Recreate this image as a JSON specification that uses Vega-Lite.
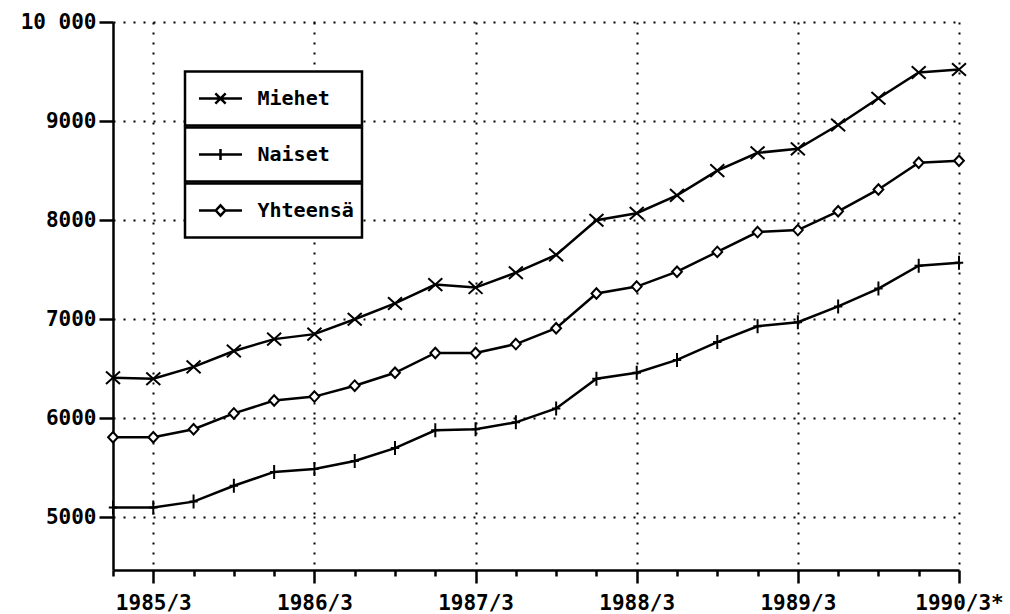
{
  "$schema": "https://vega.github.io/schema/vega-lite/v6.json",
  "width": 846,
  "height": 548,
  "autosize": {"type": "none"},
  "padding": {"left": 113, "top": 22, "right": 51, "bottom": 44},
  "background": "white",
  "config": {
    "view": {"stroke": null},
    "axis": {
      "domainColor": "black",
      "domainWidth": 2.5,
      "tickColor": "black",
      "tickWidth": 2.5,
      "gridColor": "black",
      "gridDash": [2, 8],
      "gridWidth": 2,
      "labelFont": "DejaVu Sans Mono",
      "labelFontWeight": "bold",
      "labelFontSize": 21,
      "labelColor": "black",
      "title": null
    }
  },
  "data": {
    "values": [
      {"t": 0, "sarja": "Miehet", "arvo": 6410},
      {"t": 1, "sarja": "Miehet", "arvo": 6400},
      {"t": 2, "sarja": "Miehet", "arvo": 6520},
      {"t": 3, "sarja": "Miehet", "arvo": 6680},
      {"t": 4, "sarja": "Miehet", "arvo": 6800},
      {"t": 5, "sarja": "Miehet", "arvo": 6850},
      {"t": 6, "sarja": "Miehet", "arvo": 7000},
      {"t": 7, "sarja": "Miehet", "arvo": 7160},
      {"t": 8, "sarja": "Miehet", "arvo": 7350},
      {"t": 9, "sarja": "Miehet", "arvo": 7320},
      {"t": 10, "sarja": "Miehet", "arvo": 7470},
      {"t": 11, "sarja": "Miehet", "arvo": 7650},
      {"t": 12, "sarja": "Miehet", "arvo": 8000},
      {"t": 13, "sarja": "Miehet", "arvo": 8070},
      {"t": 14, "sarja": "Miehet", "arvo": 8250},
      {"t": 15, "sarja": "Miehet", "arvo": 8500},
      {"t": 16, "sarja": "Miehet", "arvo": 8680},
      {"t": 17, "sarja": "Miehet", "arvo": 8720},
      {"t": 18, "sarja": "Miehet", "arvo": 8960},
      {"t": 19, "sarja": "Miehet", "arvo": 9230},
      {"t": 20, "sarja": "Miehet", "arvo": 9490},
      {"t": 21, "sarja": "Miehet", "arvo": 9520},
      {"t": 0, "sarja": "Naiset", "arvo": 5100},
      {"t": 1, "sarja": "Naiset", "arvo": 5100},
      {"t": 2, "sarja": "Naiset", "arvo": 5160},
      {"t": 3, "sarja": "Naiset", "arvo": 5320},
      {"t": 4, "sarja": "Naiset", "arvo": 5460},
      {"t": 5, "sarja": "Naiset", "arvo": 5490},
      {"t": 6, "sarja": "Naiset", "arvo": 5570},
      {"t": 7, "sarja": "Naiset", "arvo": 5700},
      {"t": 8, "sarja": "Naiset", "arvo": 5880},
      {"t": 9, "sarja": "Naiset", "arvo": 5890},
      {"t": 10, "sarja": "Naiset", "arvo": 5960},
      {"t": 11, "sarja": "Naiset", "arvo": 6100},
      {"t": 12, "sarja": "Naiset", "arvo": 6400},
      {"t": 13, "sarja": "Naiset", "arvo": 6460},
      {"t": 14, "sarja": "Naiset", "arvo": 6590},
      {"t": 15, "sarja": "Naiset", "arvo": 6770},
      {"t": 16, "sarja": "Naiset", "arvo": 6930},
      {"t": 17, "sarja": "Naiset", "arvo": 6970},
      {"t": 18, "sarja": "Naiset", "arvo": 7130},
      {"t": 19, "sarja": "Naiset", "arvo": 7310},
      {"t": 20, "sarja": "Naiset", "arvo": 7540},
      {"t": 21, "sarja": "Naiset", "arvo": 7570},
      {"t": 0, "sarja": "Yhteensä", "arvo": 5810},
      {"t": 1, "sarja": "Yhteensä", "arvo": 5810},
      {"t": 2, "sarja": "Yhteensä", "arvo": 5890},
      {"t": 3, "sarja": "Yhteensä", "arvo": 6050},
      {"t": 4, "sarja": "Yhteensä", "arvo": 6180},
      {"t": 5, "sarja": "Yhteensä", "arvo": 6220},
      {"t": 6, "sarja": "Yhteensä", "arvo": 6330},
      {"t": 7, "sarja": "Yhteensä", "arvo": 6460},
      {"t": 8, "sarja": "Yhteensä", "arvo": 6660},
      {"t": 9, "sarja": "Yhteensä", "arvo": 6660},
      {"t": 10, "sarja": "Yhteensä", "arvo": 6750},
      {"t": 11, "sarja": "Yhteensä", "arvo": 6910},
      {"t": 12, "sarja": "Yhteensä", "arvo": 7260},
      {"t": 13, "sarja": "Yhteensä", "arvo": 7330},
      {"t": 14, "sarja": "Yhteensä", "arvo": 7480},
      {"t": 15, "sarja": "Yhteensä", "arvo": 7680},
      {"t": 16, "sarja": "Yhteensä", "arvo": 7880},
      {"t": 17, "sarja": "Yhteensä", "arvo": 7900},
      {"t": 18, "sarja": "Yhteensä", "arvo": 8090},
      {"t": 19, "sarja": "Yhteensä", "arvo": 8310},
      {"t": 20, "sarja": "Yhteensä", "arvo": 8580},
      {"t": 21, "sarja": "Yhteensä", "arvo": 8600}
    ]
  },
  "encoding": {
    "x": {
      "field": "t",
      "type": "quantitative",
      "scale": {"domain": [0, 21], "nice": false, "zero": false},
      "axis": {
        "values": [0, 1, 2, 3, 4, 5, 6, 7, 8, 9, 10, 11, 12, 13, 14, 15, 16, 17, 18, 19, 20, 21],
        "grid": true,
        "gridOpacity": {"condition": {"test": "(datum.value - 1) % 4 === 0", "value": 1}, "value": 0},
        "tickSize": {"condition": {"test": "(datum.value - 1) % 4 === 0", "value": 13}, "value": 6},
        "labelExpr": "(datum.value - 1) % 4 === 0 ? (floor((datum.value - 1) / 4) + 1985) + '/3' + (datum.value === 21 ? '*' : '') : ''",
        "labelPadding": 9,
        "labelFlush": false,
        "labelOverlap": false
      }
    },
    "y": {
      "field": "arvo",
      "type": "quantitative",
      "scale": {"domain": [4470, 10000], "nice": false, "zero": false},
      "axis": {
        "values": [5000, 6000, 7000, 8000, 9000, 10000],
        "grid": true,
        "tickSize": 14,
        "labelPadding": 3,
        "labelExpr": "datum.value === 10000 ? '10 000' : '' + datum.value"
      }
    }
  },
  "resolve": {"scale": {"shape": "independent"}},
  "layer": [
    {
      "mark": {"type": "line", "color": "black", "strokeWidth": 2.5},
      "encoding": {"detail": {"field": "sarja"}}
    },
    {
      "mark": {"type": "point", "filled": true, "fill": "white", "stroke": "black", "strokeWidth": 2, "size": 196, "opacity": 1},
      "encoding": {
        "shape": {
          "field": "sarja",
          "type": "nominal",
          "scale": {
            "domain": ["Miehet", "Naiset", "Yhteensä"],
            "range": ["M-1,-0.9L1,0.9M-1,0.9L1,-0.9", "M0,-1L0,1M-0.6,0L0.6,0", "M0,-0.75L0.7,0L0,0.75L-0.7,0Z"]
          },
          "legend": null
        }
      }
    },
    {
      "mark": {"type": "point", "filled": true, "fill": "white", "stroke": "black", "strokeWidth": 2.5, "opacity": 0},
      "encoding": {
        "shape": {
          "field": "sarja",
          "type": "nominal",
          "scale": {
            "domain": ["Miehet", "Naiset", "Yhteensä"],
            "range": [
              "M-1.651,-1.256L6.581,-1.256L6.581,1.256L-1.651,1.256ZM-1,0L1,0M-0.24,-0.24L0.24,0.24M-0.24,0.24L0.24,-0.24",
              "M-1.651,-1.256L6.581,-1.256L6.581,1.256L-1.651,1.256ZM-1,0L1,0M0,-0.26L0,0.26",
              "M-1.651,-1.256L6.581,-1.256L6.581,1.256L-1.651,1.256ZM-1,0L-0.22,0M0.22,0L1,0M0,-0.24L0.22,0L0,0.24L-0.22,0Z"
            ]
          },
          "legend": {
            "orient": "none",
            "legendX": 84.5,
            "legendY": 53.5,
            "title": null,
            "padding": 0,
            "rowPadding": -19,
            "symbolSize": 1849,
            "symbolStrokeWidth": 2.5,
            "symbolOpacity": 1,
            "symbolOffset": 0,
            "labelOffset": 14,
            "labelFont": "DejaVu Sans Mono",
            "labelFontWeight": "bold",
            "labelFontSize": 20,
            "labelColor": "black"
          }
        }
      }
    }
  ]
}
